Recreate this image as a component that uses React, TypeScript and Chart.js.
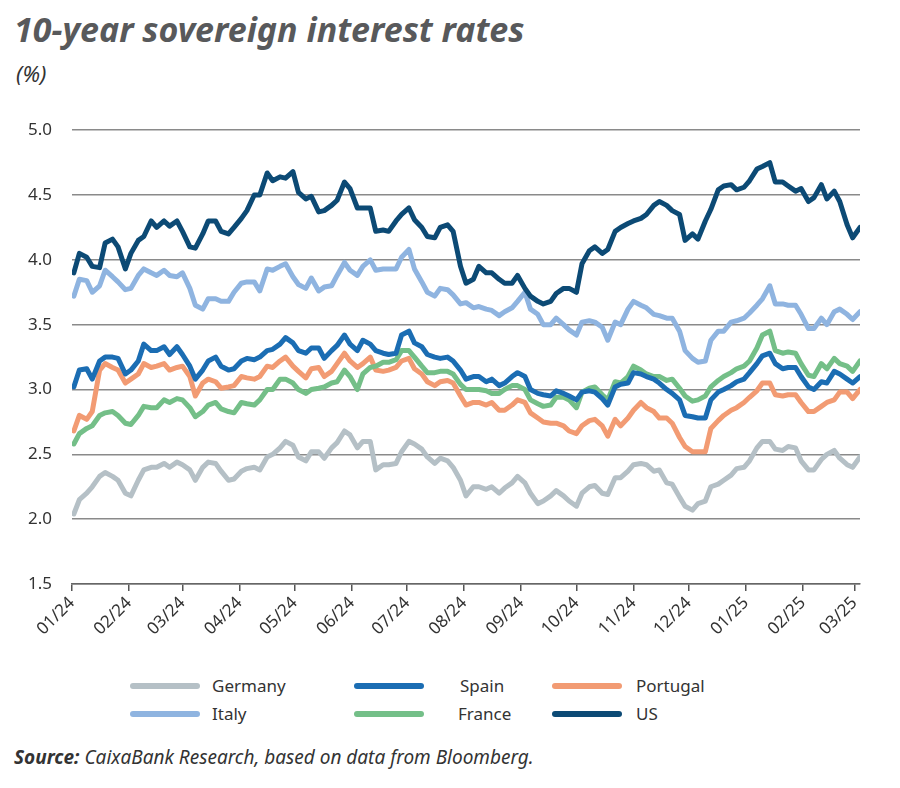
import React, { useEffect, useRef } from "react";
import { Chart, registerables } from "chart.js";

Chart.register(...registerables);

const DAY_MS = 86400000;
const ORIGIN = Date.UTC(2024, 0, 1);

// Twice-weekly observations (Tuesday / Friday), as day offsets from 1 Jan 2024
const obsDays: number[] = Array.from(
  { length: 123 },
  (_, k) => 1 + 7 * Math.floor(k / 2) + (k % 2 ? 3 : 0)
);

const monthStarts = [
  "2024-01-01", "2024-02-01", "2024-03-01", "2024-04-01", "2024-05-01",
  "2024-06-01", "2024-07-01", "2024-08-01", "2024-09-01", "2024-10-01",
  "2024-11-01", "2024-12-01", "2025-01-01", "2025-02-01", "2025-03-01",
];
const monthLabels = [
  "01/24", "02/24", "03/24", "04/24", "05/24", "06/24", "07/24", "08/24",
  "09/24", "10/24", "11/24", "12/24", "01/25", "02/25", "03/25",
];
const yTicks = [1.5, 2.0, 2.5, 3.0, 3.5, 4.0, 4.5, 5.0];

const germany = [
  2.04, 2.15, 2.2, 2.25, 2.33, 2.36, 2.33, 2.3, 2.2, 2.18, 2.3, 2.38, 2.4, 2.4, 2.43, 2.4, 2.44, 2.42, 2.38, 2.3,
  2.4, 2.44, 2.43, 2.37, 2.3, 2.31, 2.37, 2.39, 2.4, 2.38, 2.48, 2.5, 2.55, 2.6, 2.57, 2.48, 2.45, 2.52, 2.52, 2.47,
  2.55, 2.59, 2.68, 2.65, 2.55, 2.6, 2.6, 2.38, 2.42, 2.42, 2.43, 2.52, 2.6, 2.58, 2.54, 2.48, 2.43, 2.47, 2.45, 2.4,
  2.3, 2.18, 2.25, 2.25, 2.23, 2.25, 2.2, 2.24, 2.28, 2.33, 2.28, 2.2, 2.12, 2.14, 2.18, 2.22, 2.18, 2.14, 2.1, 2.2,
  2.25, 2.26, 2.2, 2.19, 2.32, 2.32, 2.37, 2.42, 2.43, 2.42, 2.37, 2.38, 2.28, 2.27, 2.17, 2.1, 2.07, 2.12, 2.14, 2.25,
  2.27, 2.3, 2.34, 2.39, 2.4, 2.45, 2.55, 2.6, 2.6, 2.54, 2.53, 2.56, 2.55, 2.45, 2.38, 2.38, 2.46, 2.5, 2.53, 2.47,
  2.42, 2.4, 2.48,
];
const italy = [
  3.72, 3.85, 3.84, 3.75, 3.8, 3.92, 3.87, 3.83, 3.77, 3.78, 3.88, 3.93, 3.9, 3.88, 3.92, 3.88, 3.87, 3.9, 3.78, 3.65,
  3.62, 3.7, 3.7, 3.68, 3.68, 3.75, 3.82, 3.83, 3.83, 3.76, 3.93, 3.92, 3.95, 3.97, 3.87, 3.81, 3.78, 3.86, 3.76, 3.79,
  3.8, 3.88, 3.98, 3.92, 3.88, 3.95, 4.0, 3.92, 3.93, 3.93, 3.93, 4.02, 4.08, 3.93, 3.83, 3.75, 3.72, 3.78, 3.77, 3.73,
  3.66, 3.67, 3.63, 3.64, 3.62, 3.61, 3.57, 3.6, 3.63, 3.68, 3.75, 3.62, 3.58, 3.5, 3.5, 3.55, 3.5, 3.46, 3.42, 3.52,
  3.53, 3.52, 3.48, 3.38, 3.52, 3.5, 3.62, 3.68, 3.65, 3.63, 3.58, 3.57, 3.55, 3.55, 3.45, 3.3, 3.24, 3.21, 3.22, 3.38,
  3.45, 3.45, 3.52, 3.53, 3.55, 3.59, 3.65, 3.7, 3.8, 3.66, 3.66, 3.65, 3.65, 3.58, 3.47, 3.47, 3.55, 3.5, 3.6, 3.62,
  3.58, 3.54, 3.6,
];
const spain = [
  3.02, 3.15, 3.16, 3.08, 3.22, 3.25, 3.25, 3.24, 3.12, 3.15, 3.22, 3.35, 3.3, 3.3, 3.33, 3.27, 3.33, 3.27, 3.18, 3.08,
  3.15, 3.22, 3.25, 3.18, 3.15, 3.16, 3.22, 3.24, 3.23, 3.25, 3.3, 3.31, 3.35, 3.4, 3.36, 3.3, 3.28, 3.32, 3.32, 3.24,
  3.3, 3.34, 3.42, 3.35, 3.3, 3.38, 3.35, 3.3, 3.28, 3.27, 3.28, 3.42, 3.45, 3.36, 3.33, 3.27, 3.25, 3.24, 3.25, 3.22,
  3.15, 3.08, 3.1, 3.1, 3.06, 3.08, 3.03, 3.05, 3.1, 3.13, 3.1, 3.0, 2.97, 2.96, 2.95, 2.99, 2.97, 2.95, 2.92, 2.98,
  2.99, 2.98, 2.93, 2.88, 3.02, 3.04, 3.05, 3.13, 3.12, 3.1, 3.08, 3.05, 3.0, 2.97, 2.92, 2.8, 2.79, 2.78, 2.78, 2.92,
  2.98, 3.0, 3.03, 3.06, 3.08, 3.13, 3.2, 3.26, 3.28, 3.2, 3.16, 3.17, 3.17, 3.1, 3.02, 3.0, 3.06, 3.05, 3.14, 3.12,
  3.08, 3.05, 3.1,
];
const portugal = [
  2.68, 2.8, 2.77, 2.83, 3.15, 3.2, 3.17, 3.15, 3.05, 3.08, 3.12, 3.2, 3.17, 3.18, 3.2, 3.15, 3.17, 3.18, 3.1, 2.95,
  3.05, 3.08, 3.06, 3.01, 3.02, 3.03, 3.1, 3.09, 3.08, 3.1, 3.18, 3.17, 3.22, 3.25, 3.18, 3.14, 3.09, 3.16, 3.17, 3.1,
  3.14, 3.2, 3.28, 3.22, 3.17, 3.2, 3.25, 3.15, 3.14, 3.15, 3.17, 3.22, 3.24, 3.16, 3.12, 3.06, 3.03, 3.06, 3.07, 3.05,
  2.95, 2.88, 2.9, 2.9, 2.88, 2.9, 2.84, 2.84, 2.88, 2.92, 2.9, 2.82, 2.78, 2.75, 2.74, 2.74, 2.72, 2.68, 2.66, 2.72,
  2.76, 2.77, 2.72, 2.64, 2.77, 2.72, 2.78, 2.84, 2.9, 2.86, 2.83, 2.78, 2.78, 2.74, 2.63, 2.56, 2.52, 2.52, 2.52, 2.7,
  2.76, 2.8, 2.84, 2.86, 2.9, 2.94, 2.99, 3.05, 3.05, 2.96, 2.95, 2.96, 2.96, 2.9, 2.83, 2.83, 2.87, 2.9, 2.92, 2.98,
  2.98, 2.93, 3.0,
];
const france = [
  2.58, 2.66, 2.7, 2.72, 2.8, 2.82, 2.83, 2.8, 2.74, 2.73, 2.8, 2.87, 2.86, 2.86, 2.92, 2.9, 2.93, 2.92, 2.86, 2.79,
  2.83, 2.88, 2.9, 2.85, 2.83, 2.82, 2.9, 2.89, 2.88, 2.92, 3.0, 3.0, 3.08, 3.08, 3.05, 3.0, 2.97, 3.0, 3.01, 3.02,
  3.05, 3.06, 3.15, 3.1, 3.0, 3.12, 3.17, 3.18, 3.21, 3.21, 3.23, 3.3, 3.3, 3.25, 3.18, 3.13, 3.13, 3.14, 3.14, 3.12,
  3.04, 3.0, 3.0, 3.0, 2.99, 2.97, 2.97, 3.0, 3.03, 3.03, 3.0, 2.92, 2.89, 2.87, 2.88, 2.94, 2.94, 2.92, 2.86, 2.98,
  3.01, 3.02, 2.96, 2.92, 3.06, 3.05, 3.1, 3.18, 3.15, 3.12, 3.1, 3.1, 3.07, 3.08, 3.01, 2.95, 2.91, 2.92, 2.95, 3.02,
  3.07, 3.1, 3.13, 3.16, 3.18, 3.22, 3.32, 3.42, 3.45, 3.3, 3.28, 3.29, 3.28, 3.2, 3.11, 3.1, 3.2, 3.16, 3.24, 3.2,
  3.18, 3.14, 3.22,
];
const us = [
  3.9, 4.05, 4.02, 3.95, 3.94, 4.13, 4.16, 4.1, 3.93, 4.05, 4.15, 4.18, 4.3, 4.25, 4.3, 4.26, 4.3, 4.22, 4.1, 4.09,
  4.2, 4.3, 4.3, 4.22, 4.2, 4.25, 4.32, 4.38, 4.5, 4.5, 4.67, 4.61, 4.64, 4.63, 4.68, 4.52, 4.47, 4.49, 4.37, 4.38,
  4.42, 4.46, 4.6, 4.55, 4.4, 4.4, 4.4, 4.22, 4.23, 4.22, 4.3, 4.35, 4.4, 4.31, 4.25, 4.18, 4.17, 4.25, 4.27, 4.22,
  3.95, 3.82, 3.85, 3.95, 3.9, 3.9, 3.85, 3.82, 3.82, 3.88, 3.78, 3.72, 3.68, 3.66, 3.68, 3.74, 3.78, 3.78, 3.75, 3.97,
  4.07, 4.1, 4.05, 4.08, 4.22, 4.25, 4.28, 4.3, 4.32, 4.35, 4.42, 4.45, 4.42, 4.38, 4.35, 4.15, 4.2, 4.16, 4.3, 4.39,
  4.54, 4.57, 4.58, 4.54, 4.56, 4.61, 4.7, 4.72, 4.75, 4.6, 4.6, 4.57, 4.53, 4.55, 4.45, 4.48, 4.58, 4.47, 4.53, 4.45,
  4.27, 4.17, 4.25,
];

const seriesNames = ["Germany", "Spain", "Portugal", "Italy", "France", "US"];
const seriesColors: Record<string, string> = {
  Germany: "#b5c0c6",
  Spain: "#1b6db3",
  Portugal: "#f29b73",
  Italy: "#8fb4e0",
  France: "#74bf88",
  US: "#0c4a75",
};
const seriesValues: Record<string, number[]> = {
  Germany: germany,
  Spain: spain,
  Portugal: portugal,
  Italy: italy,
  France: france,
  US: us,
};
// drawing order: lower "order" values are painted on top
const drawOrder: Record<string, number> = {
  US: 0, Spain: 1, France: 2, Portugal: 3, Italy: 4, Germany: 5,
};

const dayOf = (iso: string) => {
  const [y, m, d] = iso.split("-").map(Number);
  return Math.round((Date.UTC(y, m - 1, d) - ORIGIN) / DAY_MS);
};
const monthTickDays = monthStarts.map(dayOf);

const FONT = "'Noto Sans', 'Open Sans', sans-serif";

function RatesChart() {
  const ref = useRef<HTMLCanvasElement | null>(null);

  useEffect(() => {
    if (!ref.current) return;
    const chart = new Chart(ref.current, {
      type: "line",
      data: {
        datasets: seriesNames.map((name) => ({
          label: name,
          data: obsDays.map((d, i) => ({ x: d, y: seriesValues[name][i] })),
          borderColor: seriesColors[name],
          backgroundColor: seriesColors[name],
          borderWidth: 5,
          borderJoinStyle: "round" as const,
          borderCapStyle: "round" as const,
          pointRadius: 0,
          tension: 0,
          order: drawOrder[name],
        })),
      },
      options: {
        animation: false,
        responsive: false,
        maintainAspectRatio: false,
        layout: { padding: { left: 0, right: 40, top: 29, bottom: 0 } },
        plugins: { legend: { display: false }, tooltip: { enabled: false } },
        scales: {
          x: {
            type: "linear",
            min: 0,
            max: 428,
            afterBuildTicks: (scale: any) => {
              scale.ticks = monthTickDays.map((v) => ({ value: v }));
            },
            afterFit: (scale: any) => {
              scale.height = 70;
            },
            ticks: {
              autoSkip: false,
              maxRotation: 45,
              minRotation: 45,
              padding: 2,
              color: "#333",
              font: { family: FONT, size: 17 },
              callback: (value: any) => {
                const idx = monthTickDays.indexOf(Number(value));
                return idx >= 0 ? monthLabels[idx] : "";
              },
            },
            grid: {
              drawOnChartArea: false,
              drawTicks: true,
              tickLength: 7,
              color: "#555",
              lineWidth: 1.5,
            },
            border: { display: true, color: "#666", width: 1.5 },
          },
          y: {
            min: 1.5,
            max: 5.0,
            afterBuildTicks: (scale: any) => {
              scale.ticks = yTicks.map((v) => ({ value: v }));
            },
            afterFit: (scale: any) => {
              scale.width = 72;
            },
            ticks: {
              padding: 20,
              color: "#333",
              font: { family: FONT, size: 17 },
              callback: (value: any) => Number(value).toFixed(1),
            },
            grid: {
              drawTicks: false,
              color: "#8a8a8a",
              lineWidth: 1.5,
            },
            border: { display: false },
          },
        },
      },
    });
    return () => chart.destroy();
  }, []);

  return (
    <canvas
      ref={ref}
      width={900}
      height={554}
      style={{ position: "absolute", left: 0, top: 100, width: 900, height: 554 }}
    />
  );
}

function LegendItem({ name, left, top, textOffset }: { name: string; left: number; top: number; textOffset: number }) {
  return (
    <div style={{ position: "absolute", left, top, height: 22 }}>
      <div
        style={{
          position: "absolute",
          left: 0,
          top: 8,
          width: 70,
          height: 6,
          borderRadius: 3,
          background: seriesColors[name],
        }}
      />
      <div
        style={{
          position: "absolute",
          left: textOffset,
          top: -1,
          whiteSpace: "nowrap",
          fontFamily: FONT,
          fontSize: 17,
          color: "#333",
        }}
      >
        {name}
      </div>
    </div>
  );
}

export default function App() {
  useEffect(() => {
    document.body.style.margin = "0";
  }, []);

  return (
    <div
      style={{
        position: "relative",
        width: 900,
        height: 788,
        background: "#fff",
        overflow: "hidden",
        fontFamily: FONT,
      }}
    >
      <div
        style={{
          position: "absolute",
          left: 14,
          top: 6,
          fontSize: 34,
          fontWeight: 700,
          fontStyle: "italic",
          color: "#58595b",
          whiteSpace: "nowrap",
        }}
      >
        10-year sovereign interest rates
      </div>
      <div
        style={{
          position: "absolute",
          left: 16,
          top: 58,
          fontSize: 22,
          fontStyle: "italic",
          color: "#333",
        }}
      >
        (%)
      </div>

      <RatesChart />

      <LegendItem name="Germany" left={130} top={675} textOffset={82} />
      <LegendItem name="Spain" left={354} top={675} textOffset={106} />
      <LegendItem name="Portugal" left={552} top={675} textOffset={84} />
      <LegendItem name="Italy" left={130} top={703} textOffset={82} />
      <LegendItem name="France" left={354} top={703} textOffset={104} />
      <LegendItem name="US" left={552} top={703} textOffset={84} />

      <div
        style={{
          position: "absolute",
          left: 14,
          top: 744,
          fontSize: 19,
          fontStyle: "italic",
          color: "#333",
          whiteSpace: "nowrap",
        }}
      >
        <span style={{ fontWeight: 700 }}>Source:</span> CaixaBank Research, based on data from Bloomberg.
      </div>
    </div>
  );
}
